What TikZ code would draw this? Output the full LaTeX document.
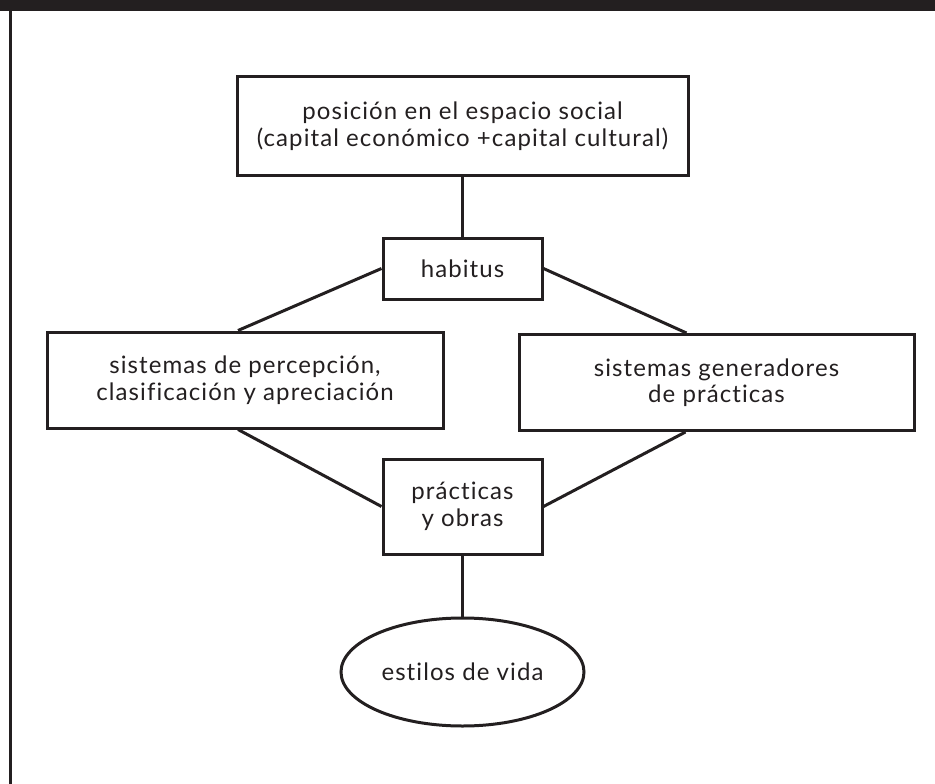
\documentclass[tikz,border=0pt]{standalone}
\usepackage{fontspec}
\setmainfont{Lato}[Ligatures={NoCommon,NoRare}, LetterSpace=4.5]
\usepackage{tikz}
\usetikzlibrary{shapes.geometric, positioning}
\definecolor{ink}{RGB}{35,31,32}
\tikzset{
  box/.style={rectangle, draw=ink, line width=3pt, text=ink, align=center, inner sep=0pt,
              font=\fontsize{24}{26.5}\selectfont},
  bigbox/.style={box, minimum width=451pt, minimum height=98pt},
  smallbox/.style={box, minimum width=159pt, minimum height=61pt},
  sidebox/.style={box, minimum width=396pt, minimum height=96pt},
  lifestyle/.style={ellipse, draw=ink, line width=3pt, text=ink, inner sep=0pt,
              minimum width=243pt, minimum height=108pt, font=\fontsize{24}{26.5}\selectfont},
  link/.style={draw=ink, line width=3pt}
}
\begin{document}
\begin{tikzpicture}[x=1pt, y=-1pt]
\useasboundingbox (0,0) rectangle (935,784);
% marco
\fill[ink] (0,0) rectangle (935,11);
\draw[ink, line width=3pt] (10.5,11) -- (10.5,784);

\node (posicion) [bigbox] at (462.5,126) {posición en el espacio social\\(capital económico +capital cultural)};
\node (habitus) [smallbox, below of=posicion, node distance=142.5pt] {habitus};
\node (percepcion) [sidebox, below of=habitus, node distance=111.5pt, xshift=-217.5pt] {sistemas de percepción,\\clasificación y apreciación};
\node (generadores) [sidebox, minimum width=395pt, below of=habitus, node distance=114pt, xshift=254pt] {sistemas generadores\\de prácticas};
\node (practicas) [smallbox, minimum height=95pt, below of=habitus, node distance=238pt] {prácticas\\y obras};
\node (estilos) [lifestyle, below of=practicas, node distance=165.5pt] {estilos de vida};

\draw [link] (posicion) -- (habitus);
\draw [link] (habitus.west) -- ([xshift=-7pt]percepcion.north);
\draw [link] (habitus.east) -- ([xshift=-30pt]generadores.north);
\draw [link] ([xshift=-7pt]percepcion.south) -- (practicas.west);
\draw [link] ([xshift=-31pt]generadores.south) -- (practicas.east);
\draw [link] (practicas) -- (estilos);

\end{tikzpicture}
\end{document}
